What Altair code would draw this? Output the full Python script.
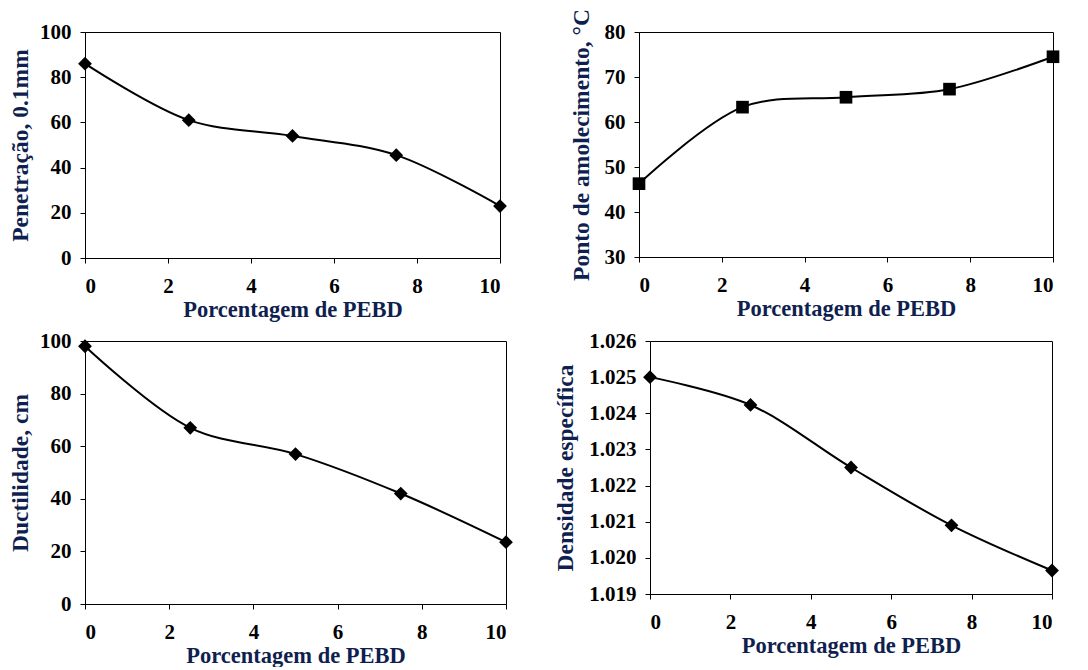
import altair as alt
import pandas as pd

pebd = [0, 2.5, 5, 7.5, 10]
penetracao = [86, 61, 54, 45.5, 23]
amolecimento = [46.3, 63.3, 65.5, 67.3, 74.5]
ductilidade = [98, 67, 57, 42, 23.5]
densidade = [1.0250, 1.02423, 1.0225, 1.0209, 1.01965]

FONT = "Liberation Serif"
TITLE_COLOR = "#0f1f4f"


def panel(values, ytitle, ydomain, ystep, shape, w, h, fmt=None, tpad=7, psize=190):
    df = pd.DataFrame({"x": pebd, "y": values})
    n = int(round((ydomain[1] - ydomain[0]) / ystep))
    yaxis_kw = dict(title=ytitle, values=[round(ydomain[0] + i * ystep, 4) for i in range(n + 1)],
                    titlePadding=tpad, labelPadding=9, titleFontSize=23.5)
    if fmt:
        yaxis_kw["format"] = fmt
    x = alt.X("x:Q", scale=alt.Scale(domain=[0, 10], nice=False),
              axis=alt.Axis(title="Porcentagem de PEBD", values=[0, 2, 4, 6, 8, 10],
                            labelPadding=12, titlePadding=2))
    y = alt.Y("y:Q", scale=alt.Scale(domain=ydomain, nice=False, zero=False),
              axis=alt.Axis(**yaxis_kw))
    base = alt.Chart(df).encode(x=x, y=y)
    line = base.mark_line(color="black", strokeWidth=2, interpolate="catmull-rom")
    pts = base.mark_point(shape=shape, filled=True, color="black", size=psize, opacity=1)
    return alt.layer(line, pts).properties(width=w, height=h)


p1 = panel(penetracao, "Penetração, 0.1mm", [0, 100], 20, "diamond", 415, 226)
p2 = panel(amolecimento, "Ponto de amolecimento, °C", [30, 80], 10, "square", 414, 225, tpad=11, psize=160)
p3 = panel(ductilidade, "Ductilidade, cm", [0, 100], 20, "diamond", 421, 263)
p4 = panel(densidade, "Densidade específica", [1.019, 1.026], 0.001, "diamond", 402, 253, tpad=11, fmt=".3f")

chart = alt.vconcat(
    alt.hconcat(p1, p2, spacing=60),
    alt.hconcat(p3, p4, spacing=39),
    spacing=8,
).properties(
    padding={"left": 0, "top": 0, "right": 4, "bottom": 0}
).configure_view(
    stroke="black", strokeWidth=1
).configure_axis(
    grid=False,
    domainColor="black",
    tickColor="black",
    tickSize=5,
    labelFont=FONT,
    labelFontSize=21,
    labelFontWeight="bold",
    labelColor="black",
    titleFont=FONT,
    titleFontSize=22.5,
    titleFontWeight="bold",
    titleColor=TITLE_COLOR,
)

chart.save("out.html", embed_options={"renderer": "svg", "actions": False})
